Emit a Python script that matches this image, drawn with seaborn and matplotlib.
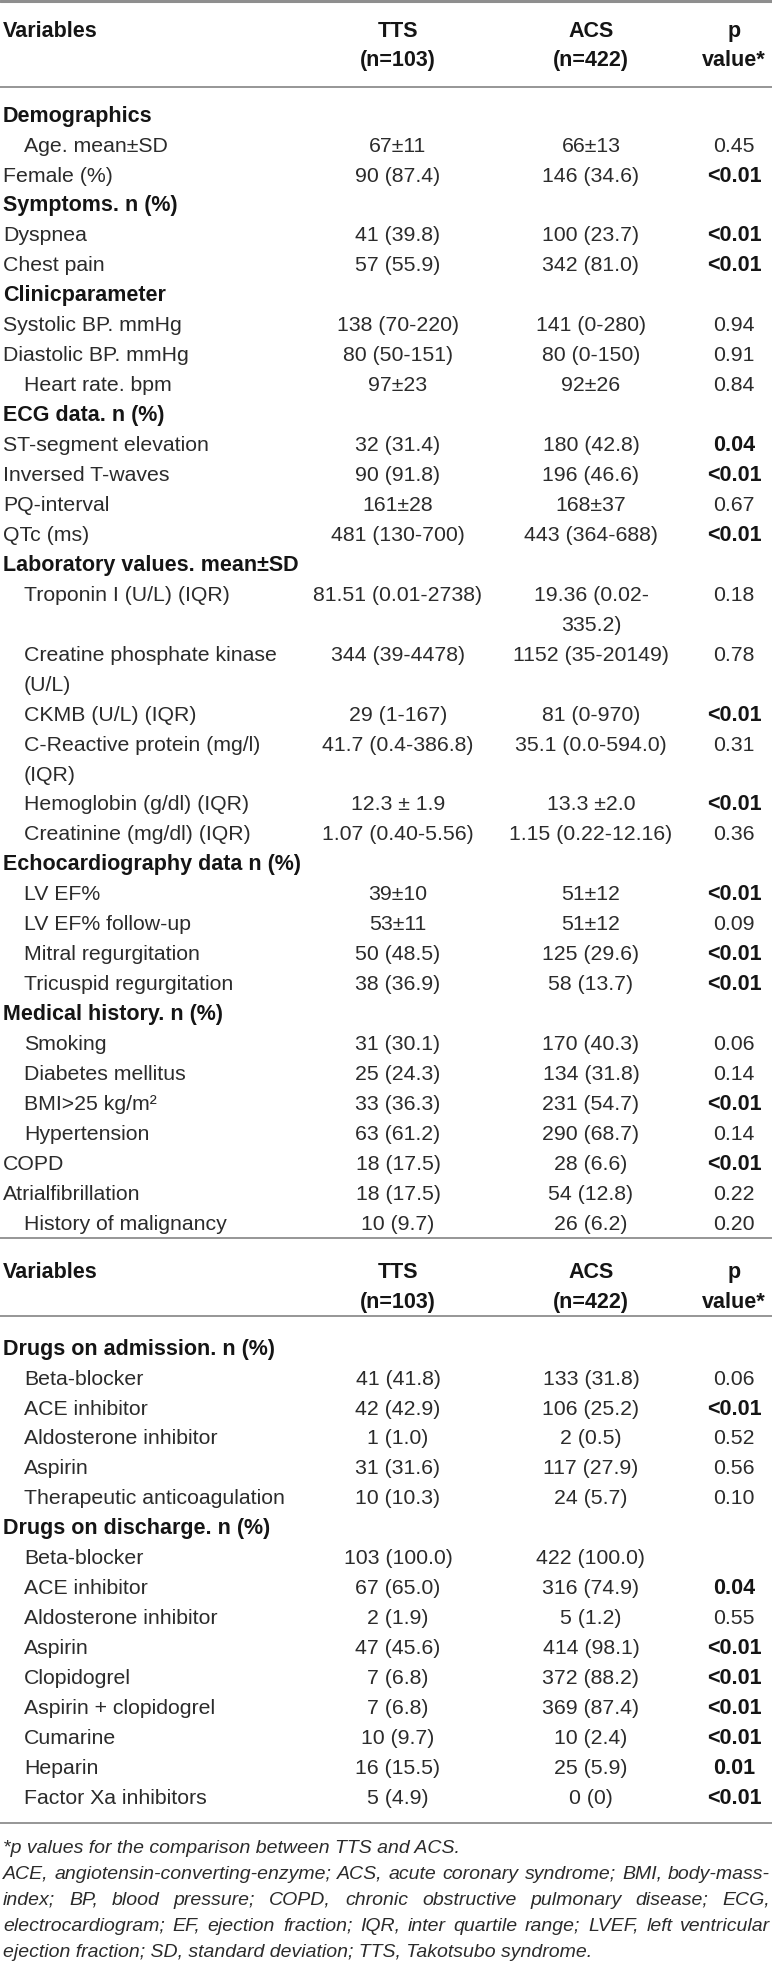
import matplotlib
matplotlib.use("Agg")
import matplotlib.pyplot as plt
import seaborn as sns

# ---------------- data ----------------
header_cols = ["Variables", "TTS\n(n=103)", "ACS\n(n=422)", "p\nvalue*"]

t1_labels = [
    "Demographics", "Age. mean±SD", "Female (%)",
    "Symptoms. n (%)", "Dyspnea", "Chest pain",
    "Clinicparameter", "Systolic BP. mmHg", "Diastolic BP. mmHg", "Heart rate. bpm",
    "ECG data. n (%)", "ST-segment elevation", "Inversed T-waves", "PQ-interval", "QTc (ms)",
    "Laboratory values. mean±SD", "Troponin I (U/L) (IQR)", "Creatine phosphate kinase\n(U/L)",
    "CKMB (U/L) (IQR)", "C-Reactive protein (mg/l)\n(IQR)", "Hemoglobin (g/dl) (IQR)",
    "Creatinine (mg/dl) (IQR)",
    "Echocardiography data n (%)", "LV EF%", "LV EF% follow-up", "Mitral regurgitation",
    "Tricuspid regurgitation",
    "Medical history. n (%)", "Smoking", "Diabetes mellitus", "BMI>25 kg/m²", "Hypertension",
    "COPD", "Atrialfibrillation", "History of malignancy",
]
t1_section = [1, 0, 0, 1, 0, 0, 1, 0, 0, 0, 1, 0, 0, 0, 0, 1, 0, 0, 0, 0, 0, 0,
              1, 0, 0, 0, 0, 1, 0, 0, 0, 0, 0, 0, 0]
t1_indent = [0, 1, 0, 0, 0, 0, 0, 0, 0, 1, 0, 0, 0, 0, 0, 0, 1, 1, 1, 1, 1, 1,
             0, 1, 1, 1, 1, 0, 1, 1, 1, 1, 0, 0, 1]
t1_tts = ["", "67±11", "90 (87.4)", "", "41 (39.8)", "57 (55.9)",
          "", "138 (70-220)", "80 (50-151)", "97±23",
          "", "32 (31.4)", "90 (91.8)", "161±28", "481 (130-700)",
          "", "81.51 (0.01-2738)", "344 (39-4478)", "29 (1-167)", "41.7 (0.4-386.8)",
          "12.3 ± 1.9", "1.07 (0.40-5.56)",
          "", "39±10", "53±11", "50 (48.5)", "38 (36.9)",
          "", "31 (30.1)", "25 (24.3)", "33 (36.3)", "63 (61.2)", "18 (17.5)", "18 (17.5)",
          "10 (9.7)"]
t1_acs = ["", "66±13", "146 (34.6)", "", "100 (23.7)", "342 (81.0)",
          "", "141 (0-280)", "80 (0-150)", "92±26",
          "", "180 (42.8)", "196 (46.6)", "168±37", "443 (364-688)",
          "", "19.36 (0.02-\n335.2)", "1152 (35-20149)", "81 (0-970)", "35.1 (0.0-594.0)",
          "13.3 ±2.0", "1.15 (0.22-12.16)",
          "", "51±12", "51±12", "125 (29.6)", "58 (13.7)",
          "", "170 (40.3)", "134 (31.8)", "231 (54.7)", "290 (68.7)", "28 (6.6)", "54 (12.8)",
          "26 (6.2)"]
t1_p = ["", "0.45", "<0.01", "", "<0.01", "<0.01",
        "", "0.94", "0.91", "0.84",
        "", "0.04", "<0.01", "0.67", "<0.01",
        "", "0.18", "0.78", "<0.01", "0.31", "<0.01", "0.36",
        "", "<0.01", "0.09", "<0.01", "<0.01",
        "", "0.06", "0.14", "<0.01", "0.14", "<0.01", "0.22", "0.20"]
t1_pbold = [0, 0, 1, 0, 1, 1, 0, 0, 0, 0, 0, 1, 1, 0, 1, 0, 0, 0, 1, 0, 1, 0,
            0, 1, 0, 1, 1, 0, 0, 0, 1, 0, 1, 0, 0]

t2_labels = [
    "Drugs on admission. n (%)", "Beta-blocker", "ACE inhibitor", "Aldosterone inhibitor",
    "Aspirin", "Therapeutic anticoagulation",
    "Drugs on discharge. n (%)", "Beta-blocker", "ACE inhibitor", "Aldosterone inhibitor",
    "Aspirin", "Clopidogrel", "Aspirin + clopidogrel", "Cumarine", "Heparin",
    "Factor Xa inhibitors",
]
t2_section = [1, 0, 0, 0, 0, 0, 1, 0, 0, 0, 0, 0, 0, 0, 0, 0]
t2_indent = [0, 1, 1, 1, 1, 1, 0, 1, 1, 1, 1, 1, 1, 1, 1, 1]
t2_tts = ["", "41 (41.8)", "42 (42.9)", "1 (1.0)", "31 (31.6)", "10 (10.3)",
          "", "103 (100.0)", "67 (65.0)", "2 (1.9)", "47 (45.6)", "7 (6.8)", "7 (6.8)",
          "10 (9.7)", "16 (15.5)", "5 (4.9)"]
t2_acs = ["", "133 (31.8)", "106 (25.2)", "2 (0.5)", "117 (27.9)", "24 (5.7)",
          "", "422 (100.0)", "316 (74.9)", "5 (1.2)", "414 (98.1)", "372 (88.2)",
          "369 (87.4)", "10 (2.4)", "25 (5.9)", "0 (0)"]
t2_p = ["", "0.06", "<0.01", "0.52", "0.56", "0.10",
        "", "", "0.04", "0.55", "<0.01", "<0.01", "<0.01", "<0.01", "0.01", "<0.01"]
t2_pbold = [0, 0, 1, 0, 0, 0, 0, 0, 1, 0, 1, 1, 1, 1, 1, 1]

footnote_first = "*p values for the comparison between TTS and ACS."
footnote_abbrev = [
    "ACE, angiotensin-converting-enzyme; ACS, acute coronary syndrome; BMI, body-mass-",
    "index; BP, blood pressure; COPD, chronic obstructive pulmonary disease; ECG,",
    "electrocardiogram; EF, ejection fraction; IQR, inter quartile range; LVEF, left ventricular",
    "ejection fraction; SD, standard deviation; TTS, Takotsubo syndrome.",
]

# ---------------- style ----------------
sns.set_theme(style="white")
plt.rcParams["font.family"] = ["Liberation Sans", "DejaVu Sans"]

W, H = 772, 1969
FS = 15.3
FS_BOLD = 15.5
FS_NOTE = 14.0
PITCH = 29.95
BASE = 7.6          # baseline offset below visual row centre
TXT = "#2b2b2b"
BLD = "#151515"
RULE = "#8e8e8e"
X_LEFT, X_IND = 3, 24
X_TTS, X_ACS, X_P = 398, 591, 734

fig = plt.figure(figsize=(W / 100, H / 100), dpi=100)
ax = fig.add_axes([0, 0, 1, 1])
ax.set_xlim(0, W)
ax.set_ylim(H, 0)
ax.axis("off")


def put(x, y, s, ha="left", bold=False, **kw):
    ax.text(x, y + BASE, s, ha=ha, va="baseline",
            fontsize=FS_BOLD if bold else FS,
            fontweight="bold" if bold else "normal",
            color=BLD if bold else TXT, **kw)


def header(y1, y2):
    put(X_LEFT, y1, header_cols[0], bold=True)
    for x, s in zip([X_TTS, X_ACS, X_P], header_cols[1:]):
        a, b = s.split("\n")
        put(x, y1, a, ha="center", bold=True)
        put(x, y2, b, ha="center", bold=True)


def body(y0, labels, section, indent, tts, acs, p, pbold):
    y = y0
    for i in range(len(labels)):
        lab_lines = labels[i].split("\n")
        acs_lines = acs[i].split("\n")
        x = X_IND if indent[i] else X_LEFT
        for k, s in enumerate(lab_lines):
            put(x, y + k * PITCH, s, bold=bool(section[i]))
        if tts[i]:
            put(X_TTS, y, tts[i], ha="center")
        for k, s in enumerate(acs_lines):
            put(X_ACS, y + k * PITCH, s, ha="center")
        if p[i]:
            put(X_P, y, p[i], ha="center", bold=bool(pbold[i]))
        y += PITCH * max(len(lab_lines), len(acs_lines))


def rule(y, lw=1.3):
    ax.axhline(y, color=RULE, lw=lw, xmin=0, xmax=1)


# table 1
rule(1.2, lw=2.2)
header(29, 58)
rule(86.5)
body(114, t1_labels, t1_section, t1_indent, t1_tts, t1_acs, t1_p, t1_pbold)
rule(1238)

# table 2
header(1270, 1300)
rule(1316)
body(1347, t2_labels, t2_section, t2_indent, t2_tts, t2_acs, t2_p, t2_pbold)
rule(1823)

# footnotes
renderer = fig.canvas.get_renderer()
NOTE_Y = [1846, 1872, 1898, 1924, 1950]


def note_line(y, s, justify):
    if not justify:
        ax.text(X_LEFT, y + 6.8, s, ha="left", va="baseline", fontsize=FS_NOTE,
                style="italic", color=TXT)
        return
    words = s.split(" ")
    objs = [ax.text(0, y + 6.8, w, ha="left", va="baseline", fontsize=FS_NOTE,
                    style="italic", color=TXT) for w in words]
    widths = [o.get_window_extent(renderer).width for o in objs]
    gap = (W - 2 - X_LEFT - sum(widths)) / (len(words) - 1)
    x = X_LEFT
    for o, w in zip(objs, widths):
        o.set_x(x)
        x += w + gap


note_line(NOTE_Y[0], footnote_first, False)
for j, s in enumerate(footnote_abbrev):
    note_line(NOTE_Y[j + 1], s, justify=(j < len(footnote_abbrev) - 1))

fig.savefig("out.png", dpi=100)
